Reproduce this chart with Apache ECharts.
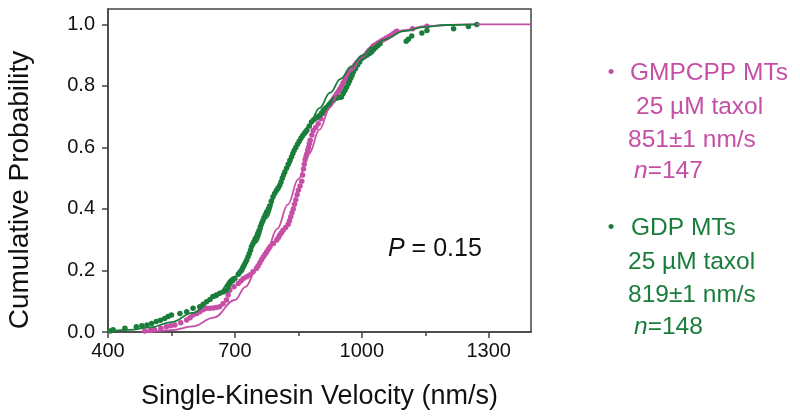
<!DOCTYPE html>
<html>
<head>
<meta charset="utf-8">
<script src="https://cdn.jsdelivr.net/npm/echarts@6/dist/echarts.min.js"></script>
<style>html,body{margin:0;padding:0;background:#fff}#c{width:800px;height:420px}</style>
</head>
<body>
<div id="c"></div>
<script>
// ---- data ----
const xMajorTicks = [400, 700, 1000, 1300];
const xMinorTicks = [550, 850, 1150];
const yTicks = [0, 0.2, 0.4, 0.6, 0.8, 1.0];

// GMPCPP MTs: empirical cumulative distribution
const gmpcppVel = [487,500,510,525,538,548,558,572,586,594,601,610,617,625,633,641,649,656,664,672,680,684,688,698,708,714,720,728,735,743,751,755,759,763,767,771,775,779,783,791,799,803,806,810,814,820,826,829,832,835,838,841,844,847,850,854,858,860,862,864,866,868,870,872,874,876,878,882,885,891,897,903,909,913,917,921,925,929,933,937,941,945,948,952,956,960,964,968,972,976,980,984,988,993,998,1003,1008,1013,1017,1022,1027,1033,1039,1045,1051,1057,1063,1069,1075,1080,1083,1120,1154];
const gmpcppCum = [0.003,0.005,0.007,0.012,0.017,0.020,0.023,0.030,0.039,0.046,0.055,0.060,0.066,0.072,0.077,0.077,0.078,0.080,0.082,0.092,0.104,0.120,0.136,0.147,0.158,0.166,0.174,0.180,0.185,0.196,0.207,0.215,0.225,0.235,0.244,0.252,0.260,0.269,0.277,0.288,0.299,0.307,0.315,0.323,0.331,0.340,0.350,0.362,0.375,0.388,0.400,0.415,0.430,0.446,0.461,0.475,0.490,0.510,0.530,0.545,0.560,0.570,0.579,0.590,0.600,0.612,0.623,0.640,0.655,0.665,0.677,0.693,0.710,0.718,0.726,0.734,0.742,0.750,0.758,0.766,0.775,0.783,0.790,0.800,0.810,0.820,0.830,0.839,0.848,0.854,0.860,0.868,0.875,0.882,0.888,0.894,0.900,0.908,0.915,0.922,0.930,0.935,0.940,0.945,0.950,0.955,0.960,0.965,0.970,0.975,0.978,0.986,0.994];

// GDP MTs: empirical cumulative distribution
const gdpVel = [405,412,440,467,480,492,503,514,524,534,542,550,570,586,601,617,625,633,641,648,656,664,672,680,684,688,694,700,708,712,716,719,722,725,728,731,734,737,739,742,745,748,751,754,757,760,763,766,769,772,775,779,782,786,790,794,798,802,806,809,812,815,818,822,826,830,834,837,840,844,848,852,856,860,864,867,870,876,881,886,891,896,901,905,909,913,917,922,927,932,937,941,945,949,952,956,960,964,968,971,974,977,980,985,990,995,1000,1006,1012,1018,1023,1028,1033,1038,1043,1105,1110,1118,1142,1154,1217,1252,1272];
const gdpCum = [0.003,0.007,0.012,0.017,0.020,0.023,0.028,0.034,0.038,0.044,0.050,0.055,0.060,0.066,0.077,0.082,0.090,0.098,0.106,0.115,0.120,0.126,0.130,0.136,0.147,0.158,0.166,0.174,0.188,0.195,0.201,0.210,0.218,0.226,0.234,0.245,0.255,0.266,0.277,0.285,0.293,0.302,0.310,0.320,0.330,0.342,0.353,0.362,0.372,0.381,0.390,0.400,0.410,0.425,0.440,0.450,0.460,0.468,0.477,0.488,0.500,0.510,0.520,0.532,0.545,0.558,0.570,0.580,0.590,0.600,0.610,0.620,0.630,0.638,0.645,0.650,0.656,0.670,0.683,0.690,0.695,0.700,0.705,0.712,0.720,0.726,0.731,0.738,0.745,0.752,0.759,0.761,0.762,0.763,0.764,0.775,0.785,0.796,0.807,0.816,0.826,0.835,0.845,0.856,0.868,0.878,0.889,0.895,0.900,0.905,0.910,0.918,0.925,0.931,0.937,0.945,0.952,0.962,0.972,0.980,0.986,0.993,1.000];

// fitted curves
const gmpcppFitX = [480,500,550,600,650,700,725,750,775,800,825,850,875,900,925,950,975,1000,1025,1050,1100,1150,1200,1250,1400];
const gmpcppFitY = [0.001,0.002,0.006,0.018,0.047,0.104,0.147,0.200,0.264,0.335,0.414,0.497,0.579,0.658,0.731,0.795,0.849,0.893,0.926,0.951,0.981,0.994,0.998,1.000,1.000];
const gdpFitX = [405,450,500,550,600,650,700,725,750,775,800,825,850,875,900,925,950,975,1000,1025,1050,1100,1150,1200,1272];
const gdpFitY = [0.003,0.007,0.015,0.032,0.062,0.110,0.180,0.228,0.290,0.370,0.455,0.535,0.610,0.672,0.728,0.778,0.823,0.863,0.898,0.926,0.949,0.978,0.992,0.998,1.000];

const magenta = '#c64fa6';
const green = '#1a7d3b';
const FONT = '"Liberation Sans", Arial, Helvetica, sans-serif';

const zip = (a, b) => a.map((v, i) => [v, b[i]]);

const chart = echarts.init(document.getElementById('c'), null, {renderer: 'canvas'});

const legendLines = [
  ['•', 611, 73, magenta, true],
  ['GMPCPP MTs', 630, 73, magenta],
  ['25 µM taxol', 636, 107, magenta],
  ['851±1 nm/s', 628, 140, magenta],
  ['{i|n}=147', 634, 171, magenta],
  ['•', 611, 228, green, true],
  ['GDP MTs', 631, 228, green],
  ['25 µM taxol', 628, 262, green],
  ['819±1 nm/s', 628, 295, green],
  ['{i|n}=148', 634, 327, green]
];

const graphics = [
  {
    type: 'text', x: 20, y: 190, rotation: Math.PI / 2,
    style: {text: 'Cumulative Probability', fontSize: 28, fontFamily: FONT, fill: '#111',
            textAlign: 'center', textVerticalAlign: 'middle'}
  },
  {
    type: 'text', x: 388, y: 249,
    style: {text: '{i|P} = 0.15', fontSize: 25, fontFamily: FONT, fill: '#111',
            textAlign: 'left', textVerticalAlign: 'middle',
            rich: {i: {fontStyle: 'italic', fontSize: 25, fontFamily: FONT, fill: '#111'}}}
  }
];
legendLines.forEach(p => {
  const bullet = !!p[4];
  graphics.push({
    type: 'text', x: p[1], y: p[2],
    style: {text: p[0], fontSize: bullet ? 19 : 24.5, fontFamily: FONT, fill: p[3],
            textAlign: bullet ? 'center' : 'left', textVerticalAlign: 'middle',
            rich: {i: {fontStyle: 'italic', fontSize: 24.5, fontFamily: FONT, fill: p[3]}}}
  });
});

const axisColor = '#444';

chart.setOption({
  animation: false,
  backgroundColor: '#fff',
  grid: {left: 108, right: 269, top: 9, bottom: 88, show: true,
         borderColor: axisColor, borderWidth: 1.5, backgroundColor: 'transparent'},
  xAxis: [
    {
      type: 'value', min: 400, max: 1400,
      name: 'Single-Kinesin Velocity (nm/s)', nameLocation: 'middle', nameGap: 51,
      nameTextStyle: {fontSize: 27, fontFamily: FONT, color: '#111'},
      axisLine: {show: true, lineStyle: {color: axisColor, width: 1.5}},
      axisTick: {show: true, customValues: xMajorTicks, length: 6, lineStyle: {color: axisColor, width: 1.5}},
      axisLabel: {customValues: xMajorTicks, formatter: v => String(v), fontSize: 20, fontFamily: FONT, color: '#111', margin: 9},
      splitLine: {show: false}
    },
    {
      type: 'value', min: 400, max: 1400, position: 'bottom', offset: 0,
      axisLine: {show: false},
      axisTick: {show: true, customValues: xMinorTicks, length: 4, lineStyle: {color: axisColor, width: 1.5}},
      axisLabel: {show: false},
      splitLine: {show: false}
    }
  ],
  yAxis: {
    type: 'value', min: 0, max: 1.05,
    axisLine: {show: true, lineStyle: {color: axisColor, width: 1.5}},
    axisTick: {show: true, customValues: yTicks, length: 6, lineStyle: {color: axisColor, width: 1.5}},
    axisLabel: {customValues: yTicks, formatter: v => v.toFixed(1), fontSize: 20, fontFamily: FONT, color: '#111', margin: 13},
    splitLine: {show: false}
  },
  series: [
    {
      name: 'GMPCPP data', type: 'scatter', data: zip(gmpcppVel, gmpcppCum),
      symbol: 'circle', symbolSize: 5.5,
      itemStyle: {color: magenta, opacity: 1}, z: 2
    },
    {
      name: 'GDP data', type: 'scatter', data: zip(gdpVel, gdpCum),
      symbol: 'circle', symbolSize: 5.5,
      itemStyle: {color: green, opacity: 1}, z: 3
    },
    {
      name: 'GMPCPP fit', type: 'line', data: zip(gmpcppFitX, gmpcppFitY),
      symbol: 'none', smooth: 0.4, smoothMonotone: 'x',
      lineStyle: {color: magenta, width: 1.8}, z: 4
    },
    {
      name: 'GDP fit', type: 'line', data: zip(gdpFitX, gdpFitY),
      symbol: 'none', smooth: 0.4, smoothMonotone: 'x',
      lineStyle: {color: green, width: 1.8}, z: 5
    }
  ],
  graphic: graphics
});
</script>
</body>
</html>
